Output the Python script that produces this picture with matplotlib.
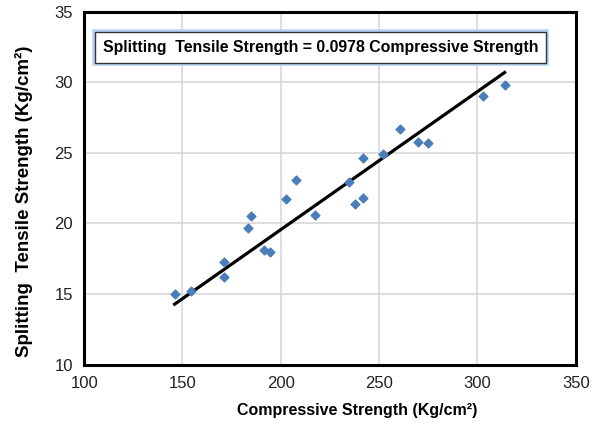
import matplotlib.pyplot as plt
import matplotlib.patheffects as pe
import numpy as np

# compressive strength (Kg/cm2) vs splitting tensile strength (Kg/cm2)
comp = [146, 154.5, 171, 171, 183.5, 185, 191.6, 194.5, 202.6, 207.7, 217.5,
        234.8, 237.7, 241.9, 241.9, 251.8, 260.6, 269.9, 275, 303, 313.8]
tens = [15.0, 15.2, 17.3, 16.2, 19.7, 20.5, 18.1, 18.0, 21.7, 23.1, 20.6,
        22.9, 21.4, 21.8, 24.6, 24.9, 26.7, 25.8, 25.7, 29.0, 29.8]
slope = 0.0978

xticks = [100, 150, 200, 250, 300, 350]
yticks = [10, 15, 20, 25, 30, 35]

plt.rcParams['font.family'] = ['Liberation Sans', 'DejaVu Sans']

fig = plt.figure(figsize=(6.01, 4.32), dpi=100)
ax = fig.add_axes([0.14, 0.156, 0.818, 0.817])

ax.grid(True, color='#d4d4d4', linewidth=1.1)
ax.set_axisbelow(True)

xfit = np.array([min(comp), max(comp)])
ax.plot(xfit, slope * xfit, color='black', linewidth=2.3, zorder=2)
ax.scatter(comp, tens, marker='D', s=20, color='#4a7ebb', zorder=3)

ax.set_xlim(100, 350)
ax.set_ylim(10, 35)
ax.set_xticks(xticks)
ax.set_yticks(yticks)
ax.tick_params(length=0, labelsize=12, pad=8, colors='#222222')
for s in ax.spines.values():
    s.set_linewidth(2.2)

ax.set_xlabel('Compressive Strength (Kg/cm²)', fontsize=11.5, fontweight='bold')
ax.xaxis.set_label_coords(0.555, -0.11)
ax.set_ylabel('Splitting  Tensile Strength (Kg/cm²)', fontsize=13.5, fontweight='bold')
ax.yaxis.set_label_coords(-0.104, 0.463)

t = ax.text(0.038, 0.899, 'Splitting  Tensile Strength = 0.0978 Compressive Strength',
            transform=ax.transAxes, fontsize=11.4, fontweight='bold', va='center', ha='left',
            bbox=dict(boxstyle='square,pad=0.5', facecolor='white', edgecolor='#333333', linewidth=1))
t.get_bbox_patch().set_path_effects([pe.withStroke(linewidth=4, foreground='#b8d4f4')])

fig.savefig('out.png', dpi=100)
